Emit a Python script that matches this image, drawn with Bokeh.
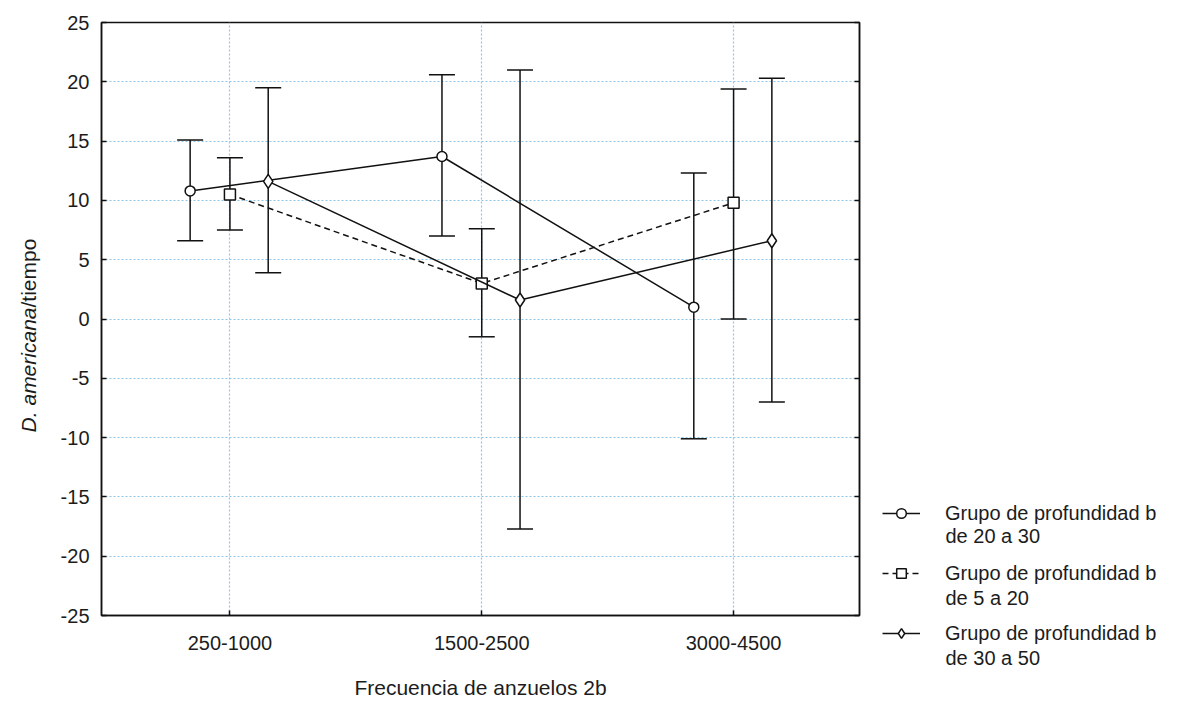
import math
from bokeh.plotting import figure
from bokeh.layouts import row
from bokeh.models import (ColumnDataSource, Whisker, TeeHead, FixedTicker, LinearAxis,
                          Range1d, Legend, LegendItem, Label, CustomLabelingPolicy)
from bokeh.embed import file_html
from bokeh.resources import INLINE

# ---- data ----
categories = ["250-1000", "1500-2500", "3000-4500"]
cat_pos = [1, 2, 3]
y_ticks = [-25, -20, -15, -10, -5, 0, 5, 10, 15, 20, 25]
y_tick_labels = ["-25", "-20", "-15", "-10", "-5", "0", "5", "10", "15", "20", "25"]

legend_line1 = ["Grupo de profundidad b", "Grupo de profundidad b", "Grupo de profundidad b"]
legend_line2 = ["de 20 a 30", "de 5 a 20", "de 30 a 50"]

mean_20_30 = [10.8, 13.7, 1.0]
upper_20_30 = [15.1, 20.6, 12.3]
lower_20_30 = [6.6, 7.0, -10.1]

mean_5_20 = [10.5, 3.0, 9.8]
upper_5_20 = [13.6, 7.6, 19.4]
lower_5_20 = [7.5, -1.5, 0.0]

mean_30_50 = [11.6, 1.6, 6.6]
upper_30_50 = [19.5, 21.0, 20.3]
lower_30_50 = [3.9, -17.7, -7.0]

series = [
    (mean_20_30, upper_20_30, lower_20_30, -0.158, "circle", "solid", 10),
    (mean_5_20, upper_5_20, lower_5_20, 0.0, "square", "6 4", 11),
    (mean_30_50, upper_30_50, lower_30_50, 0.152, "diamond", "solid", 14),
]

FONT = "Liberation Sans"
TXT = "#1c1c1c"
INK = "#111111"
H = 713
W_LEFT = 55
W_MAIN = 826
W_LEG = 1185 - W_LEFT - W_MAIN
LEG_X0 = W_LEFT + W_MAIN  # canvas x where the legend strip starts

# ---- left strip: y-axis title (italic species name + plain text) ----
left = figure(width=W_LEFT, height=H, output_backend="svg", toolbar_location=None,
              x_axis_location=None, y_axis_location=None,
              x_range=Range1d(0, 1), y_range=Range1d(0, 1),
              min_border=0, min_border_left=0, min_border_right=0,
              min_border_top=0, min_border_bottom=0, frame_align=False)
left.outline_line_color = None
left.grid.visible = False
left.add_layout(Label(x=28, y=406, x_units="screen", y_units="screen", text="D. americana",
                      angle=math.pi / 2, text_align="right", text_baseline="middle",
                      text_font=FONT, text_font_size="21px", text_font_style="italic",
                      text_color=TXT))
left.add_layout(Label(x=28, y=406, x_units="screen", y_units="screen", text="/tiempo",
                      angle=math.pi / 2, text_align="left", text_baseline="middle",
                      text_font=FONT, text_font_size="21px", text_color=TXT))

# ---- main plot ----
p = figure(width=W_MAIN, height=H, output_backend="svg", toolbar_location=None,
           x_range=Range1d(0.49, 3.5), y_range=Range1d(-25, 25),
           min_border_left=46, min_border_right=0, min_border_top=22, min_border_bottom=98,
           frame_align=False)
p.background_fill_color = "white"
p.border_fill_color = "white"
p.outline_line_color = INK
p.outline_line_width = 1.5

p.xgrid.ticker = FixedTicker(ticks=cat_pos)
p.ygrid.ticker = FixedTicker(ticks=y_ticks)
for g in (p.xgrid, p.ygrid):
    g.grid_line_color = "#8fc4e4"
    g.grid_line_dash = "2 2"
    g.grid_line_width = 1.2

xa = p.xaxis[0]
xa.ticker = FixedTicker(ticks=cat_pos)
xa.major_label_overrides = {k: v for k, v in zip(cat_pos, categories)}
xa.axis_label = "Frecuencia de anzuelos 2b"
ya = p.yaxis[0]
ya.ticker = FixedTicker(ticks=y_ticks)
ya.major_label_overrides = {k: v for k, v in zip(y_ticks, y_tick_labels)}
for ax in (xa, ya):
    ax.axis_line_color = INK
    ax.axis_line_width = 1.5
    ax.major_tick_in = 5
    ax.major_tick_out = 0
    ax.major_tick_line_color = INK
    ax.major_tick_line_width = 1.5
    ax.minor_tick_line_color = None
    ax.major_label_text_font = FONT
    ax.major_label_text_font_size = "20px"
    ax.major_label_text_color = TXT
    ax.axis_label_text_font = FONT
    ax.axis_label_text_font_size = "21px"
    ax.axis_label_text_font_style = "normal"
    ax.axis_label_text_color = TXT
xa.major_label_standoff = 20
xa.axis_label_standoff = 23
ya.major_label_standoff = 12

# right frame edge: inward ticks only, no labels
ra = LinearAxis(ticker=FixedTicker(ticks=y_ticks), major_label_standoff=0,
                major_label_policy=CustomLabelingPolicy(
                    code="for (const i of Array.from(indices)) { indices.unset(i) }\nreturn indices"),
                axis_line_color=INK, axis_line_width=1.5, major_tick_in=5, major_tick_out=0,
                major_tick_line_color=INK, major_tick_line_width=1.5, minor_tick_line_color=None)
p.add_layout(ra, "right")

# ---- legend strip ----
leg = figure(width=W_LEG, height=H, output_backend="svg", toolbar_location=None,
             x_axis_location=None, y_axis_location=None,
             x_range=Range1d(100, 101), y_range=Range1d(100, 101),
             min_border=0, min_border_left=0, min_border_right=0,
             min_border_top=0, min_border_bottom=0, frame_align=False)
leg.outline_line_color = None
leg.grid.visible = False

items = []
for i, (mean, up, lo, off, marker, dash, size) in enumerate(series):
    xs = [c + off for c in cat_pos]
    src = ColumnDataSource(dict(x=xs, y=mean, upper=up, lower=lo))
    w = Whisker(source=src, base="x", upper="upper", lower="lower", dimension="height",
                line_color=INK, line_width=1.5,
                upper_head=TeeHead(size=26, line_color=INK, line_width=1.5),
                lower_head=TeeHead(size=26, line_color=INK, line_width=1.5))
    p.add_layout(w)
    p.line("x", "y", source=src, line_color=INK, line_width=1.5, line_dash=dash)
    p.scatter("x", "y", source=src, marker=marker, size=size, fill_color="white",
              line_color=INK, line_width=1.5)
    # same series in the legend strip (outside its visible range) to feed the legend glyphs
    lr = leg.line("x", "y", source=src, line_color=INK, line_width=1.5, line_dash=dash)
    sr = leg.scatter("x", "y", source=src, marker=marker, size=size - 1, fill_color="white",
                     line_color=INK, line_width=1.5)
    items.append(LegendItem(label=legend_line1[i], renderers=[lr, sr]))

LEG_FS = 20
legend = Legend(items=items, location=(882 - LEG_X0, 68), orientation="vertical",
                border_line_color=None, background_fill_alpha=0,
                label_text_font=FONT, label_text_font_size=f"{LEG_FS}px", label_text_color=TXT,
                glyph_width=38, glyph_height=24, label_height=24,
                label_standoff=25, spacing=36, padding=0, margin=0)
leg.add_layout(legend)

second_y = [H - 535, H - 597, H - 657]
for txt, yy in zip(legend_line2, second_y):
    leg.add_layout(Label(x=945 - LEG_X0, y=yy, x_units="screen", y_units="screen", text=txt,
                         text_align="left", text_baseline="middle",
                         text_font=FONT, text_font_size=f"{LEG_FS}px", text_color=TXT))

layout = row(left, p, leg)
open("out.html", "w").write(file_html(layout, INLINE))
